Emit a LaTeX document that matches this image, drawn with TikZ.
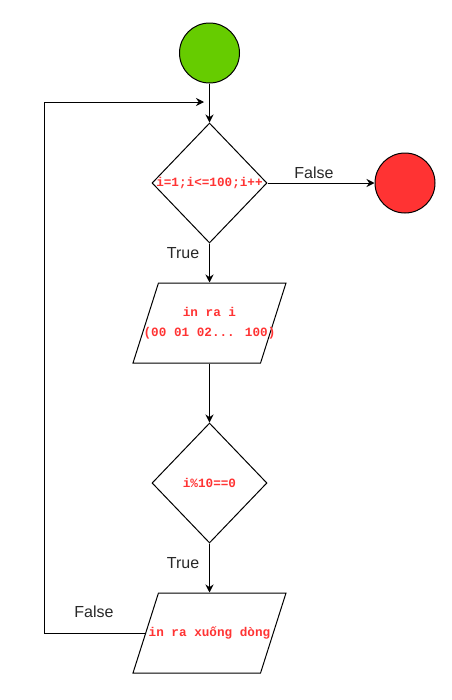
\documentclass[tikz,border=0pt]{standalone}
\usepackage{fontspec}
\setmainfont{Liberation Sans}
\newfontfamily\codefont{Liberation Mono}
\usetikzlibrary{shapes.geometric,arrows.meta}

\definecolor{startgreen}{RGB}{102,204,0}
\definecolor{stopred}{RGB}{255,51,51}
\definecolor{codered}{RGB}{255,51,51}

\tikzset{every picture/.style={line width=0.75pt}}

\begin{document}
\begin{tikzpicture}[x=0.75pt,y=0.75pt,yscale=-1,xscale=1,
  terminal/.style={circle,draw,minimum size=45pt,inner sep=0pt},
  decision/.style={diamond,draw,minimum width=86.25pt,minimum height=90pt,inner sep=0pt},
  io/.style={trapezium,draw,trapezium left angle=76,trapezium right angle=104,trapezium stretches=true,minimum width=114.75pt,minimum height=60pt,inner sep=2pt},
  code/.style={text=codered,align=center,font=\codefont\bfseries\fontsize{9.5}{15}\selectfont},
  branch/.style={font=\fontsize{12}{14}\selectfont,text={rgb,255:red,40;green,40;blue,40}},
  flow/.style={-{Stealth[length=6pt,width=6pt,inset=2pt]}}]
	\useasboundingbox (0,0) rectangle (451,700);

	%Shapes
	\node [terminal,fill=startgreen] (start) at (209.5,53) {};
	\node [decision] (loop) at (209.5,183) {};
	\node [terminal,fill=stopred] (stop) at (405,183) {};
	\node [io] (print) at (209.5,323) {};
	\node [decision] (check) at (209.5,483) {};
	\node [io] (newline) at (209.5,633) {};

	% Text Node
	\node [code] (loopText) at (loop) {i=1;i<=100;i++};
	\node [code] (printText) at (print) {in ra i\\(00 01 02... 100)};
	\node [code] (checkText) at (check) {i\%10==0};
	\node [code] (newlineText) at (newline) {in ra xuống dòng};

	% Branch labels
	\node [branch] (falseStop) at (314,173) {False};
	\node [branch] (trueLoop) at (183,253) {True};
	\node [branch] (trueCheck) at (183,563) {True};
	\node [branch] (falseBack) at (94,612) {False};

	%Connectors
	\coordinate (corner) at (44,633);
	\coordinate (back) at (204,102);
	\draw [flow] (start) -- (loop);
	\draw [flow] (loop) -- (stop);
	\draw [flow] (loop) -- (print);
	\draw [flow] (print) -- (check);
	\draw [flow] (check) -- (newline);
	\draw [flow] (newline.west) -- (corner) |- (back);
\end{tikzpicture}
\end{document}
